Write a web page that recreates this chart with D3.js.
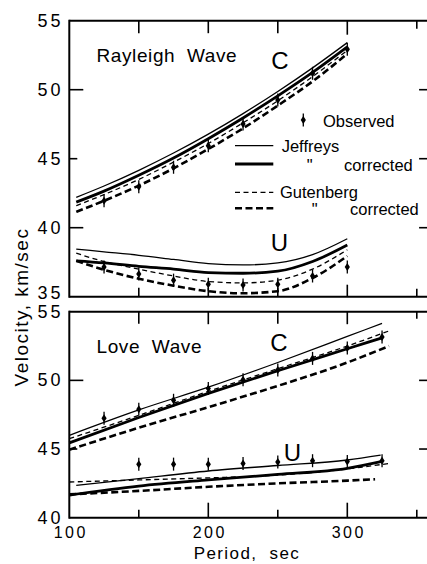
<!DOCTYPE html>
<html>
<head>
<meta charset="utf-8">
<script src="https://cdn.jsdelivr.net/npm/d3@7"></script>
<style>
  html, body { margin: 0; padding: 0; background: #fff; }
  svg { display: block; }
  text { font-family: "Liberation Sans", Arial, sans-serif; fill: #000; }
</style>
</head>
<body>
<svg id="chart" width="427" height="564"></svg>
<script>
// ---------------- DATA ----------------
// Rayleigh wave, phase velocity C
const rcPeriods = [105, 125, 150, 175, 200, 225, 250, 275, 300];
const rcJeffreys = [42.2, 43.02, 44.16, 45.41, 46.78, 48.27, 49.87, 51.58, 53.41];
const rcJeffreysCorr = [41.85, 42.65, 43.8, 45.05, 46.45, 47.95, 49.55, 51.25, 53.1];
const rcGutenberg = [41.6, 42.4, 43.5, 44.75, 46.1, 47.6, 49.2, 50.95, 52.85];
const rcGutenbergCorr = [41.15, 41.95, 43.05, 44.3, 45.7, 47.2, 48.85, 50.6, 52.6];
const rcObsPeriods = [125, 150, 175, 200, 225, 250, 275, 300];
const rcObserved = [41.96, 42.97, 44.38, 45.94, 47.51, 49.25, 51.19, 52.93];

// Rayleigh wave, group velocity U
const ruPeriods = [105, 125, 150, 175, 200, 225, 250, 275, 300];
const ruJeffreys = [38.45, 38.25, 38.0, 37.7, 37.4, 37.3, 37.45, 38.05, 39.2];
const ruJeffreysCorr = [37.6, 37.45, 37.2, 37.0, 36.75, 36.7, 36.85, 37.55, 38.75];
const ruGutenberg = [38.15, 37.55, 37.0, 36.5, 36.1, 36.0, 36.2, 37.0, 38.4];
const ruGutenbergCorr = [37.6, 36.95, 36.3, 35.8, 35.4, 35.25, 35.4, 36.35, 37.95];
const ruObsPeriods = [125, 150, 175, 200, 225, 250, 275, 300];
const ruObserved = [37.15, 36.65, 36.2, 35.9, 35.85, 35.9, 36.5, 37.15];

// Love wave, phase velocity C
const lcPeriodsJ = [100, 150, 200, 250, 300, 325];
const lcJeffreys = [46.0, 47.85, 49.5, 51.3, 53.2, 54.15];
const lcJeffreysCorr = [45.45, 47.3, 49.05, 50.7, 52.3, 53.1];
const lcPeriodsG = [100, 150, 200, 250, 300, 330];
const lcGutenberg = [45.75, 47.45, 49.2, 50.85, 52.5, 53.6];
const lcGutenbergCorr = [44.95, 46.55, 48.05, 49.6, 51.3, 52.5];
const lcObsPeriods = [125, 150, 175, 200, 225, 250, 275, 300, 325];
const lcObserved = [47.25, 47.9, 48.55, 49.4, 50.05, 50.75, 51.6, 52.35, 53.15];

// Love wave, group velocity U
const luPeriodsJ = [105, 150, 200, 250, 300, 324];
const luJeffreys = [42.35, 42.85, 43.4, 43.8, 44.2, 44.55];
const luPeriodsJc = [100, 150, 200, 250, 300, 325];
const luJeffreysCorr = [41.65, 42.3, 42.75, 43.15, 43.6, 44.1];
const luPeriodsG = [100, 150, 200, 250, 300, 330];
const luGutenberg = [42.6, 42.75, 42.9, 43.1, 43.55, 43.95];
const luPeriodsGc = [100, 150, 200, 250, 300, 320];
const luGutenbergCorr = [41.7, 41.95, 42.25, 42.5, 42.7, 42.8];
const luObsPeriods = [150, 175, 200, 225, 250, 275, 300, 325];
const luObserved = [43.9, 43.9, 43.9, 43.95, 44.05, 44.15, 44.1, 44.15];

// Axis ticks / labels
const xMajorTicks = [200, 300];
const xMinorTicks = [150, 250, 350];
const xTickLabels = [100, 200, 300];
const topYLabels = [55, 50, 45, 40, 35];
const botYLabels = [55, 50, 45, 40];

// Legend entries
const legendItems = [
  { key: "J",  label: "Jeffreys" },
  { key: "Jc", label: "\"", label2: "corrected" },
  { key: "G",  label: "Gutenberg" },
  { key: "Gc", label: "\"", label2: "corrected" }
];

// ---------------- STYLES ----------------
const styles = {
  J:  { width: 1.3, dash: null },
  Jc: { width: 2.8, dash: null },
  G:  { width: 1.3, dash: "5,3.5" },
  Gc: { width: 2.6, dash: "7,3.5" }
};

// ---------------- SCALES ----------------
const svg = d3.select("#chart");
svg.append("rect").attr("width", 427).attr("height", 564).attr("fill", "#fff");

const x = d3.scaleLinear().domain([100, 350]).range([69.3, 416.8]);
const xRight = x(361);
const yTop = d3.scaleLinear().domain([35, 55]).range([296.7, 20.7]);
const yBot = d3.scaleLinear().domain([40, 55]).range([517.7, 311.7]);

function drawPanel(y, yMajor, yMinor) {
  const g = svg.append("g");
  const [y0, y1] = [y.range()[0], y.range()[1]]; // bottom, top
  // frame
  g.append("line").attr("x1", x(100)).attr("x2", xRight).attr("y1", y1).attr("y2", y1)
    .attr("stroke", "#000").attr("stroke-width", 2);
  g.append("line").attr("x1", x(100)).attr("x2", xRight).attr("y1", y0).attr("y2", y0)
    .attr("stroke", "#000").attr("stroke-width", 2);
  g.append("line").attr("x1", x(100)).attr("x2", x(100)).attr("y1", y1 - 1).attr("y2", y0 + 1)
    .attr("stroke", "#000").attr("stroke-width", 2);
  // x ticks: top (downward) and bottom (upward)
  const addX = (vals, lenTop, lenBot) => {
    vals.forEach(v => {
      g.append("line").attr("x1", x(v)).attr("x2", x(v)).attr("y1", y1).attr("y2", y1 + lenTop)
        .attr("stroke", "#000").attr("stroke-width", 1.6);
      g.append("line").attr("x1", x(v)).attr("x2", x(v)).attr("y1", y0).attr("y2", y0 - lenBot)
        .attr("stroke", "#000").attr("stroke-width", 1.6);
    });
  };
  return { g, addX, y0, y1 };
}

function yTicks(g, y, majors, minors) {
  majors.forEach(v => {
    g.append("line").attr("x1", x(100)).attr("x2", x(100) + 14).attr("y1", y(v)).attr("y2", y(v))
      .attr("stroke", "#000").attr("stroke-width", 1.6);
    g.append("line").attr("x1", xRight - 13).attr("x2", xRight).attr("y1", y(v)).attr("y2", y(v))
      .attr("stroke", "#000").attr("stroke-width", 1.6);
  });
  minors.forEach(v => {
    g.append("line").attr("x1", x(100)).attr("x2", x(100) + 8).attr("y1", y(v)).attr("y2", y(v))
      .attr("stroke", "#000").attr("stroke-width", 1.6);
    g.append("line").attr("x1", xRight - 13).attr("x2", xRight).attr("y1", y(v)).attr("y2", y(v))
      .attr("stroke", "#000").attr("stroke-width", 1.6);
  });
}

// ---------- top panel ----------
const pT = drawPanel(yTop);
[150, 200, 250, 300].forEach(v => {});
pT.addX([150, 200, 250], 12.5, 9);
pT.addX([300], 14, 12);
pT.addX([350], 8, 8);
yTicks(pT.g, yTop, [50, 40], [45]);

// ---------- bottom panel ----------
const pB = drawPanel(yBot);
pB.addX([150, 250], 12, 8);
pB.addX([200, 300], 12.5, 15);
pB.addX([350], 7, 8);
yTicks(pB.g, yBot, [50], [45]);

// ---------- y labels ----------
const labelFont = 18;
topYLabels.forEach(v => {
  svg.append("text").attr("x", 63.5).attr("y", yTop(v) + (v === 35 ? -3.5 : 0))
    .attr("text-anchor", "end").attr("dominant-baseline", "central")
    .attr("font-size", labelFont).attr("letter-spacing", 3).text(v);
});
botYLabels.forEach(v => {
  svg.append("text").attr("x", 63.5).attr("y", yBot(v) + (v === 55 ? 0.5 : 0))
    .attr("text-anchor", "end").attr("dominant-baseline", "central")
    .attr("font-size", labelFont).attr("letter-spacing", 3).text(v);
});

// ---------- x labels ----------
xTickLabels.forEach(v => {
  svg.append("text").attr("x", x(v) + 1.5).attr("y", 537.5)
    .attr("text-anchor", "middle").attr("font-size", 16).attr("letter-spacing", 2.5).text(v);
});
svg.append("text").attr("x", 247).attr("y", 558.5).attr("text-anchor", "middle")
  .attr("font-size", 17).attr("letter-spacing", 1.4).attr("xml:space", "preserve").text("Period,  sec");
svg.append("text").attr("transform", "translate(27.5,307) rotate(-90)").attr("text-anchor", "middle")
  .attr("font-size", 19).attr("letter-spacing", 1.5).text("Velocity, km/sec");

// ---------- panel titles ----------
svg.append("text").attr("x", 96.5).attr("y", 61.7).attr("font-size", 19).attr("letter-spacing", 0.6)
  .attr("xml:space", "preserve").text("Rayleigh  Wave");
svg.append("text").attr("x", 96.5).attr("y", 353.3).attr("font-size", 19).attr("letter-spacing", 0.6)
  .attr("xml:space", "preserve").text("Love  Wave");
[["C", 280, 69.3], ["U", 279.5, 250.7], ["C", 279, 350.5], ["U", 292.5, 460.7]].forEach(([t, cx, by]) => {
  svg.append("text").attr("x", cx).attr("y", by).attr("text-anchor", "middle").attr("font-size", 24).text(t);
});

// ---------- curves ----------
const plotG = svg.append("g");
function curve(y, periods, vals, key) {
  const line = d3.line().x(d => x(d[0])).y(d => y(d[1])).curve(d3.curveMonotoneX);
  const st = styles[key];
  plotG.append("path").datum(periods.map((p, i) => [p, vals[i]]))
    .attr("d", line).attr("fill", "none").attr("stroke", "#000")
    .attr("stroke-width", st.width).attr("stroke-dasharray", st.dash);
}
function observed(y, periods, vals) {
  periods.forEach((p, i) => marker(x(p), y(vals[i])));
}
function marker(cx, cy) {
  plotG.append("line").attr("x1", cx).attr("x2", cx).attr("y1", cy - 6.5).attr("y2", cy + 6.5)
    .attr("stroke", "#000").attr("stroke-width", 1.3);
  plotG.append("path").attr("d", `M${cx},${cy - 4}L${cx + 2.6},${cy}L${cx},${cy + 4}L${cx - 2.6},${cy}Z`)
    .attr("fill", "#000");
}

curve(yTop, rcPeriods, rcJeffreys, "J");
curve(yTop, rcPeriods, rcJeffreysCorr, "Jc");
curve(yTop, rcPeriods, rcGutenberg, "G");
curve(yTop, rcPeriods, rcGutenbergCorr, "Gc");
observed(yTop, rcObsPeriods, rcObserved);

curve(yTop, ruPeriods, ruJeffreys, "J");
curve(yTop, ruPeriods, ruJeffreysCorr, "Jc");
curve(yTop, ruPeriods, ruGutenberg, "G");
curve(yTop, ruPeriods, ruGutenbergCorr, "Gc");
observed(yTop, ruObsPeriods, ruObserved);

curve(yBot, lcPeriodsJ, lcJeffreys, "J");
curve(yBot, lcPeriodsJ, lcJeffreysCorr, "Jc");
curve(yBot, lcPeriodsG, lcGutenberg, "G");
curve(yBot, lcPeriodsG, lcGutenbergCorr, "Gc");
observed(yBot, lcObsPeriods, lcObserved);

curve(yBot, luPeriodsJ, luJeffreys, "J");
curve(yBot, luPeriodsJc, luJeffreysCorr, "Jc");
curve(yBot, luPeriodsG, luGutenberg, "G");
curve(yBot, luPeriodsGc, luGutenbergCorr, "Gc");
observed(yBot, luObsPeriods, luObserved);

// ---------- legend ----------
const lg = svg.append("g");
marker(303.3, 120);
lg.append("text").attr("x", 323).attr("y", 127.3).attr("font-size", 16.5).text("Observed");
const legY = [145.7, 164, 192.3, 208.3];
const legText = [[281.7, 151.8], [306.7, 170.5], [280, 197.8], [311.7, 215]];
const legText2x = [null, 344, null, 350];
legendItems.forEach((d, i) => {
  const st = styles[d.key];
  lg.append("line").attr("x1", 235).attr("x2", 273.3).attr("y1", legY[i]).attr("y2", legY[i])
    .attr("stroke", "#000").attr("stroke-width", st.width).attr("stroke-dasharray", st.dash);
  lg.append("text").attr("x", legText[i][0]).attr("y", legText[i][1]).attr("font-size", 16.5).text(d.label);
  if (d.label2) {
    lg.append("text").attr("x", legText2x[i]).attr("y", legText[i][1]).attr("font-size", 16.5).text(d.label2);
  }
});
</script>
</body>
</html>
